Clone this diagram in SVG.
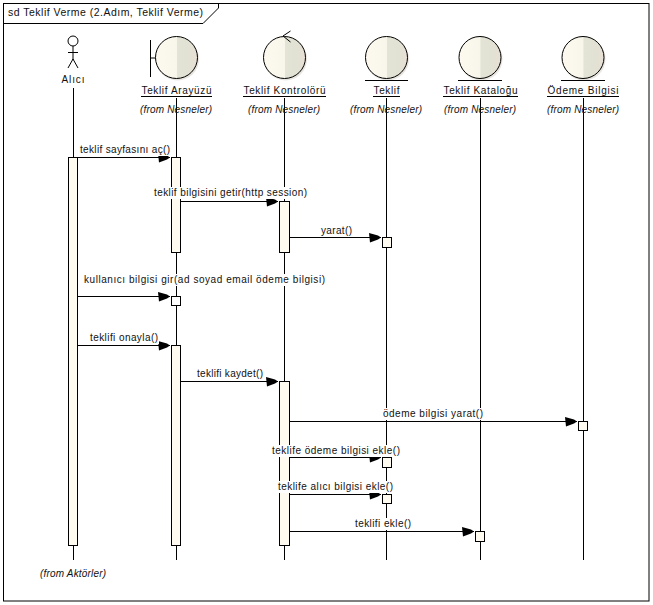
<svg xmlns="http://www.w3.org/2000/svg" width="653" height="605" viewBox="0 0 653 605">
<style>
text{font-family:"Liberation Sans",Arial,sans-serif;font-size:10px;fill:#111}
.c{text-anchor:middle}
.i{font-style:italic;text-anchor:middle}
.l{stroke:#000;stroke-width:1;fill:none}
.b{fill:#fffbf0;stroke:#000;stroke-width:1}
.s{fill:#fff;stroke:#000;stroke-width:1}
.ball{fill:url(#ballFill);stroke:#000;stroke-width:1}
.shade{fill:#d8d4cc;opacity:.6}
.lab{fill:#fff}
</style>
<defs>
<linearGradient id="ballFill" x1="0" y1="0" x2="1" y2="0">
<stop offset="0" stop-color="#fdf9ef"/>
<stop offset=".5" stop-color="#f8f6ea"/>
<stop offset=".52" stop-color="#e3e4d6"/>
<stop offset=".85" stop-color="#e2e1d3"/>
<stop offset="1" stop-color="#eadfd6"/>
</linearGradient>
<marker id="head" markerUnits="userSpaceOnUse" markerWidth="13" markerHeight="12" refX="12" refY="4.500" orient="auto">
<path d="M0 0L9 2.500L12 4.500L9 6.500L1 9.500Z" fill="#000"/>
</marker>
</defs>

<g id="frame">
<rect class="l" x="3.500" y="3.500" width="645.500" height="597.500" style="fill:#fff"/>
<path class="l" d="M3.500 23.500H203L218.500 8V3.500"/>
<text x="8" y="16" textLength="195" lengthAdjust="spacing" style="font-size:10.500px">sd Teklif Verme (2.Adım, Teklif Verme)</text>
</g>

<g id="lifelines">
<path class="l" d="M73.500 88V560M176.500 98V560M284.500 98V560M386.500 98V560M480.500 98V560M583.500 98V560"/>
</g>

<g id="actor-alici">
<circle class="l" cx="73" cy="41" r="5"/>
<path class="l" d="M73 46V60M68 52.500H78M73 59L68 68M73 59L78 68"/>
<text class="c" x="73" y="83" textLength="23">Alıcı</text>
<text class="i" x="73" y="577" textLength="66">(from Aktörler)</text>
</g>

<g id="boundary-teklif-arayuzu">
<circle class="shade" cx="177.500" cy="59" r="21.500"/>
<circle class="ball" cx="176.500" cy="57.500" r="21"/>
<path class="l" d="M150.500 40V77M150.500 58H155.500"/>
<text class="c" x="176.500" y="94" textLength="70">Teklif Arayüzü</text>
<path class="l" d="M141 96.500H212"/>
<text class="i" x="176" y="113" textLength="72">(from Nesneler)</text>
</g>

<g id="control-teklif-kontroloru">
<circle class="shade" cx="285.500" cy="59" r="21.500"/>
<circle class="ball" cx="284.500" cy="57.500" r="21"/>
<path class="l" d="M290.500 31L283 36L290.500 42"/>
<text class="c" x="284.500" y="94" textLength="82">Teklif Kontrolörü</text>
<path class="l" d="M243 96.500H326"/>
<text class="i" x="284" y="113" textLength="72">(from Nesneler)</text>
</g>

<g id="entity-teklif">
<circle class="shade" cx="387.500" cy="59" r="21.500"/>
<circle class="ball" cx="386.500" cy="57.500" r="21"/>
<path class="l" d="M365 80.500H408"/>
<text class="c" x="386.500" y="94" textLength="26">Teklif</text>
<path class="l" d="M373 96.500H400"/>
<text class="i" x="386" y="113" textLength="72">(from Nesneler)</text>
</g>

<g id="entity-teklif-katalogu">
<circle class="shade" cx="481" cy="59" r="21.500"/>
<circle class="ball" cx="480" cy="57.500" r="21"/>
<path class="l" d="M458 80.500H502"/>
<text class="c" x="480.500" y="94" textLength="74">Teklif Kataloğu</text>
<path class="l" d="M443 96.500H518"/>
<text class="i" x="480" y="113" textLength="72">(from Nesneler)</text>
</g>

<g id="entity-odeme-bilgisi">
<circle class="shade" cx="584" cy="59" r="21.500"/>
<circle class="ball" cx="583" cy="57.500" r="21"/>
<path class="l" d="M561 80.500H605"/>
<text class="c" x="583" y="94" textLength="71">Ödeme Bilgisi</text>
<path class="l" d="M547 96.500H619"/>
<text class="i" x="583" y="113" textLength="72">(from Nesneler)</text>
</g>

<g id="activations">
<rect class="b" x="68.500" y="157.500" width="9" height="388"/>
<rect class="b" x="171.500" y="157.500" width="9" height="95"/>
<rect class="s" x="171.500" y="296.500" width="9" height="9"/>
<rect class="b" x="171.500" y="345.500" width="9" height="200"/>
<rect class="b" x="279.500" y="201.500" width="10" height="51"/>
<rect class="b" x="279.500" y="381.500" width="10" height="164"/>
<rect class="b" x="382.500" y="237.500" width="9" height="10"/>
<rect class="b" x="382.500" y="457.500" width="9" height="10"/>
<rect class="b" x="382.500" y="494.500" width="9" height="9"/>
<rect class="b" x="475.500" y="531.500" width="9" height="10"/>
<rect class="b" x="578.500" y="421.500" width="9" height="9"/>
</g>

<g id="connectors">
<path class="l" marker-end="url(#head)" d="M77.500 157.500H170"/>
<path class="l" marker-end="url(#head)" d="M180.500 201.500H278"/>
<path class="l" marker-end="url(#head)" d="M289.500 237.500H381"/>
<path class="l" marker-end="url(#head)" d="M77.500 296.500H170"/>
<path class="l" marker-end="url(#head)" d="M77.500 345.500H170"/>
<path class="l" marker-end="url(#head)" d="M180.500 381.500H278"/>
<path class="l" marker-end="url(#head)" d="M289.500 421.500H577"/>
<path class="l" marker-end="url(#head)" d="M289.500 457.500H381"/>
<path class="l" marker-end="url(#head)" d="M289.500 494.500H381"/>
<path class="l" marker-end="url(#head)" d="M289.500 531.500H474"/>
</g>

<g id="message-labels">
<rect class="lab" x="79" y="145" width="92" height="11"/>
<text x="80" y="153" textLength="90">teklif sayfasını aç()</text>
<rect class="lab" x="153" y="187" width="155" height="12"/>
<text x="154" y="196" textLength="153">teklif bilgisini getir(http session)</text>
<rect class="lab" x="320" y="225" width="33" height="11"/>
<text x="321" y="234" textLength="31">yarat()</text>
<rect class="lab" x="83" y="274" width="243" height="12"/>
<text x="84" y="283" textLength="241">kullanıcı bilgisi gir(ad soyad email ödeme bilgisi)</text>
<rect class="lab" x="89" y="332" width="70" height="12"/>
<text x="90" y="341" textLength="68">teklifi onayla()</text>
<rect class="lab" x="196" y="368" width="68" height="12"/>
<text x="197" y="377" textLength="66">teklifi kaydet()</text>
<rect class="lab" x="382" y="408" width="102" height="12"/>
<text x="383" y="417" textLength="100">ödeme bilgisi yarat()</text>
<rect class="lab" x="271" y="445" width="130" height="12"/>
<text x="272" y="454" textLength="128">teklife ödeme bilgisi ekle()</text>
<rect class="lab" x="277" y="481" width="117" height="12"/>
<text x="278" y="490" textLength="115">teklife alıcı bilgisi ekle()</text>
<rect class="lab" x="354" y="518" width="58" height="12"/>
<text x="355" y="527" textLength="56">teklifi ekle()</text>
</g>
</svg>
